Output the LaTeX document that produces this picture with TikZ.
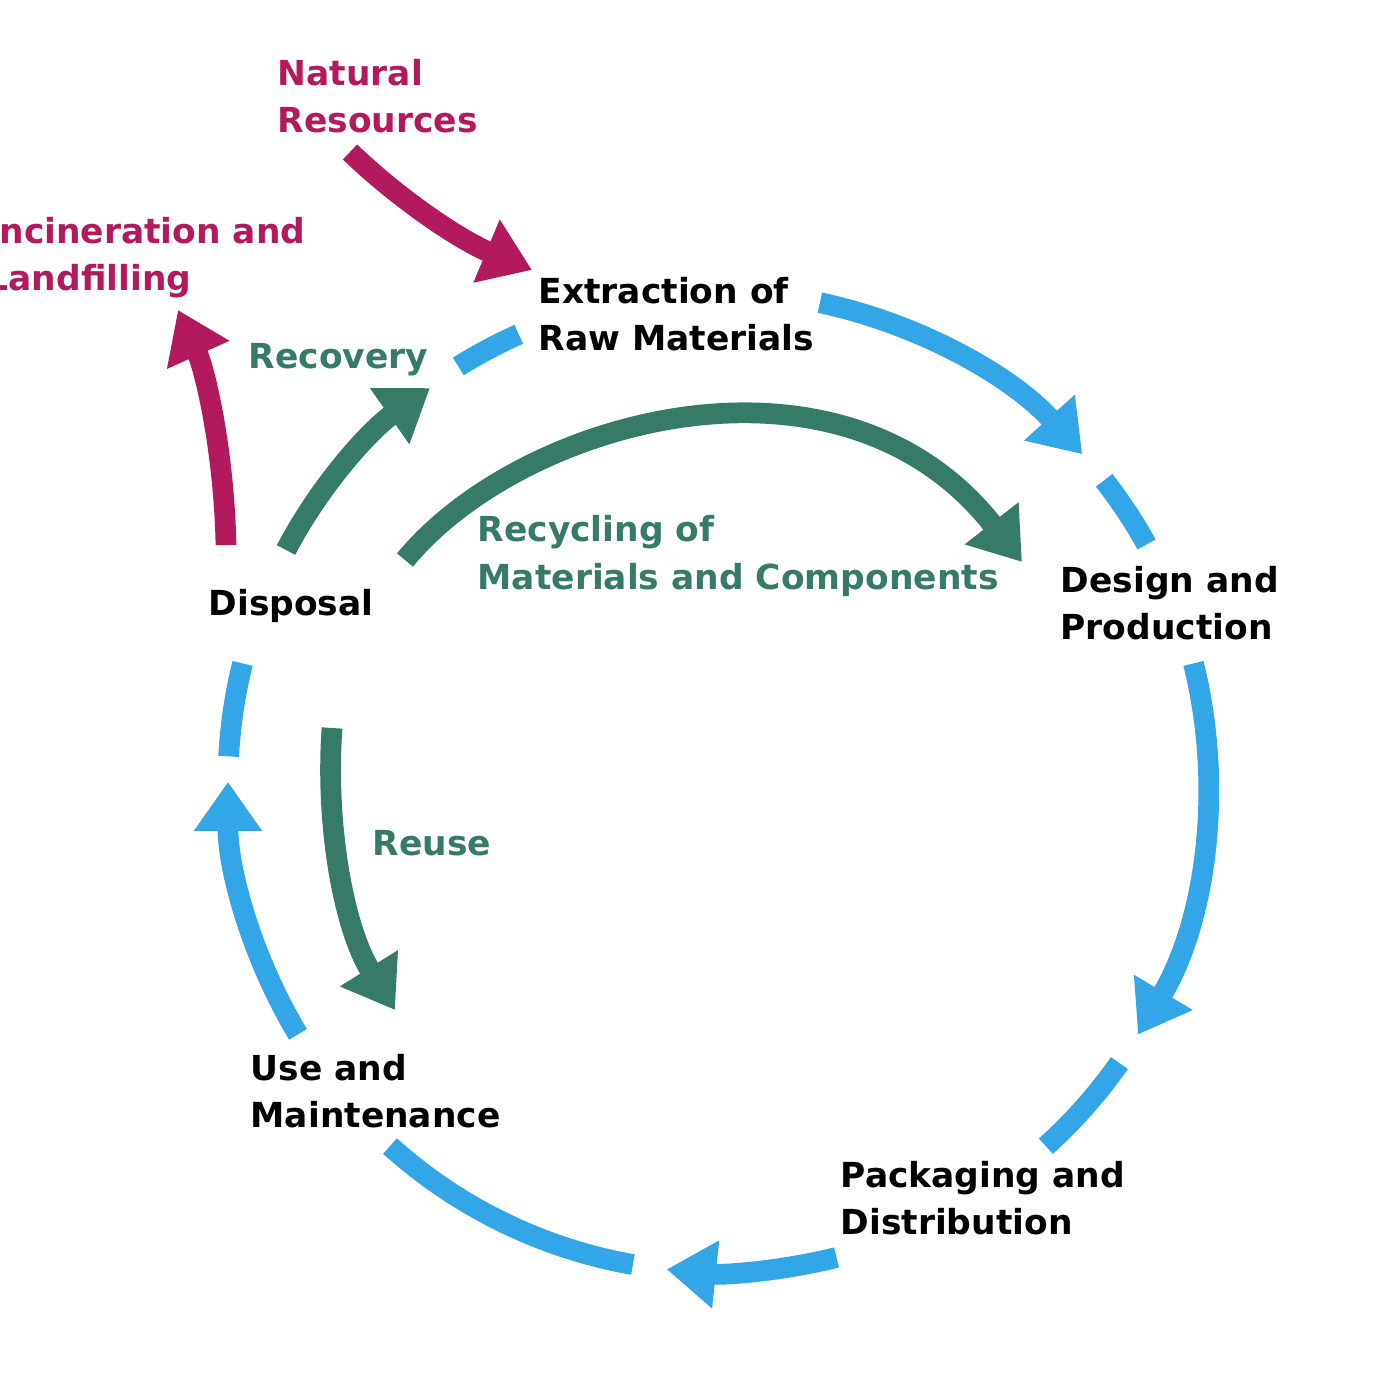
\documentclass[tikz,border=0pt]{standalone}
\usepackage{fontspec}
\setmainfont{DejaVu Sans}
\usetikzlibrary{arrows.meta}
\definecolor{cblue}{HTML}{33A6E8}
\definecolor{cgreen}{HTML}{357B68}
\definecolor{cmag}{HTML}{B31A5E}
\begin{document}
\begin{tikzpicture}[x=0.01cm,y=0.01cm,
  lbl/.style={anchor=west,align=left,inner sep=0pt,font=\fontsize{9.8}{13.4}\selectfont\bfseries},
  band/.style={line width=5.9pt},
  arr/.style={band,-{Triangle[width=18.5pt,length=14pt]}}]
\useasboundingbox (0,0) rectangle (1400,1378);
\clip (0,0) rectangle (1400,1378);
\coordinate (c) at (718,596);
% blue circle
\draw[arr,cblue] (c)+(78:490) arc[start angle=78,end angle=42,radius=4.9cm];
\draw[band,cblue] (c)+(38:490) arc[start angle=38,end angle=29,radius=4.9cm];
\draw[arr,cblue] (c)+(14:490) arc[start angle=14,end angle=-31,radius=4.9cm];
\draw[band,cblue] (c)+(-35:490) arc[start angle=-35,end angle=-48,radius=4.9cm];
\draw[arr,cblue] (c)+(-76:490) arc[start angle=-76,end angle=-96,radius=4.9cm];
\draw[band,cblue] (c)+(-100:490) arc[start angle=-100,end angle=-132,radius=4.9cm];
\draw[arr,cblue] (c)+(-149:490) arc[start angle=-149,end angle=-180,radius=4.9cm];
\draw[band,cblue] (c)+(177:490) arc[start angle=177,end angle=166,radius=4.9cm];
\draw[band,cblue] (c)+(122:490) arc[start angle=122,end angle=114,radius=4.9cm];
% labels
\node[lbl,text=cmag] (nat) at (277,1282) {Natural\\Resources};
\node[lbl,text=cmag] (inc) at (-14,1120) {Incineration and\\Landfilling};
\node[lbl] (ext) at (538,1064) {Extraction of\\Raw Materials};
\node[lbl,text=cgreen] (rec) at (248,1018) {Recovery};
\node[lbl] (des) at (1060,775) {Design and\\Production};
\node[lbl,text=cgreen] (recy) at (477,822) {Recycling of\\Materials and Components};
\node[lbl] (dis) at (208,772) {Disposal};
\node[lbl,text=cgreen] (reu) at (372,535) {Reuse};
\node[lbl] (use) at (250,287) {Use and\\Maintenance};
\node[lbl] (pac) at (840,180) {Packaging and\\Distribution};
% other flows
\coordinate (n1) at (350,1226); \coordinate (n2) at (532,1108);
\draw[arr,cmag] (n1) .. controls (400,1178) and (460,1138) .. (n2);
\coordinate (i1) at (226,833); \coordinate (i2) at (178,1068);
\draw[arr,cmag] (i1) .. controls (224,928) and (205,1008) .. (i2);
\coordinate (r1) at (286,828); \coordinate (r2) at (430,990);
\draw[arr,cgreen] (r1) .. controls (320,893) and (370,948) .. (r2);
\coordinate (y1) at (405,818); \coordinate (y2) at (1022,816);
\draw[arr,cgreen] (y1) .. controls (520,958) and (840,1048) .. (y2);
\coordinate (u1) at (332,650); \coordinate (u2) at (395,368);
\draw[arr,cgreen] (u1) .. controls (325,548) and (345,448) .. (u2);
\end{tikzpicture}
\end{document}
